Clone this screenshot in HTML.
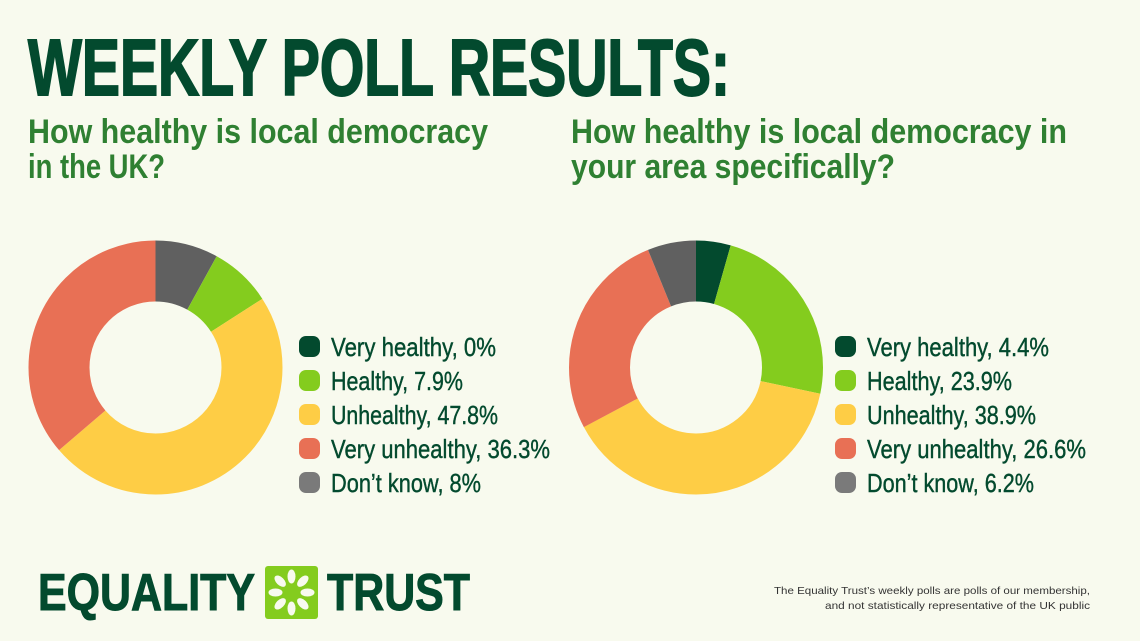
<!DOCTYPE html>
<html><head><meta charset="utf-8"><style>
html,body{margin:0;padding:0;background:#f8faee;}
svg{display:block;}
text{font-family:"Liberation Sans",sans-serif;}
</style></head><body>
<svg width="1140" height="641" viewBox="0 0 1140 641" xmlns="http://www.w3.org/2000/svg">
<rect width="1140" height="641" fill="#f8faee"/>
<text x="28" y="95" font-size="80" font-weight="bold" fill="#034a2e" textLength="702" lengthAdjust="spacingAndGlyphs" stroke="#034a2e" stroke-width="2">WEEKLY POLL RESULTS:</text>
<g fill="#2f8032" font-size="34" font-weight="bold">
<text x="28" y="143" textLength="460" lengthAdjust="spacingAndGlyphs">How healthy is local democracy</text>
<text x="28" y="178" textLength="137" lengthAdjust="spacingAndGlyphs">in the UK?</text>
<text x="571" y="143" textLength="496" lengthAdjust="spacingAndGlyphs">How healthy is local democracy in</text>
<text x="571" y="178" textLength="324" lengthAdjust="spacingAndGlyphs">your area specifically?</text>
</g>
<g transform="rotate(-90 155.5 367.5)" fill="none" stroke-width="61">
<circle cx="155.5" cy="367.5" r="96.5" stroke="#606060" stroke-dasharray="48.5 700" stroke-dashoffset="0"/>
<circle cx="155.5" cy="367.5" r="96.5" stroke="#84cc1e" stroke-dasharray="47.9 700" stroke-dashoffset="-48.5"/>
<circle cx="155.5" cy="367.5" r="96.5" stroke="#fecd45" stroke-dasharray="289.8 700" stroke-dashoffset="-96.4"/>
<circle cx="155.5" cy="367.5" r="96.5" stroke="#e87055" stroke-dasharray="220.1 700" stroke-dashoffset="-386.2"/>
</g>
<g transform="rotate(-90 696 367.5)" fill="none" stroke-width="61">
<circle cx="696" cy="367.5" r="96.5" stroke="#034a2e" stroke-dasharray="26.7 700" stroke-dashoffset="0"/>
<circle cx="696" cy="367.5" r="96.5" stroke="#84cc1e" stroke-dasharray="144.9 700" stroke-dashoffset="-26.7"/>
<circle cx="696" cy="367.5" r="96.5" stroke="#fecd45" stroke-dasharray="235.9 700" stroke-dashoffset="-171.6"/>
<circle cx="696" cy="367.5" r="96.5" stroke="#e87055" stroke-dasharray="161.3 700" stroke-dashoffset="-407.4"/>
<circle cx="696" cy="367.5" r="96.5" stroke="#606060" stroke-dasharray="37.6 700" stroke-dashoffset="-568.7"/>
</g>
<g>
<rect x="299" y="336" width="21" height="21" rx="7" fill="#034a2e"/>
<rect x="299" y="370" width="21" height="21" rx="7" fill="#84cc1e"/>
<rect x="299" y="404" width="21" height="21" rx="7" fill="#fecd45"/>
<rect x="299" y="438" width="21" height="21" rx="7" fill="#e87055"/>
<rect x="299" y="472" width="21" height="21" rx="7" fill="#7a7a7a"/>
<rect x="835" y="336" width="21" height="21" rx="7" fill="#034a2e"/>
<rect x="835" y="370" width="21" height="21" rx="7" fill="#84cc1e"/>
<rect x="835" y="404" width="21" height="21" rx="7" fill="#fecd45"/>
<rect x="835" y="438" width="21" height="21" rx="7" fill="#e87055"/>
<rect x="835" y="472" width="21" height="21" rx="7" fill="#7a7a7a"/>
</g>
<g fill="#034a2e" font-size="26" stroke="#034a2e" stroke-width="0.4">
<text x="331" y="356" textLength="165" lengthAdjust="spacingAndGlyphs">Very healthy, 0%</text>
<text x="331" y="390" textLength="132" lengthAdjust="spacingAndGlyphs">Healthy, 7.9%</text>
<text x="331" y="424" textLength="167" lengthAdjust="spacingAndGlyphs">Unhealthy, 47.8%</text>
<text x="331" y="458" textLength="219" lengthAdjust="spacingAndGlyphs">Very unhealthy, 36.3%</text>
<text x="331" y="492" textLength="150" lengthAdjust="spacingAndGlyphs">Don’t know, 8%</text>
<text x="867" y="356" textLength="182" lengthAdjust="spacingAndGlyphs">Very healthy, 4.4%</text>
<text x="867" y="390" textLength="145" lengthAdjust="spacingAndGlyphs">Healthy, 23.9%</text>
<text x="867" y="424" textLength="169" lengthAdjust="spacingAndGlyphs">Unhealthy, 38.9%</text>
<text x="867" y="458" textLength="219" lengthAdjust="spacingAndGlyphs">Very unhealthy, 26.6%</text>
<text x="867" y="492" textLength="167" lengthAdjust="spacingAndGlyphs">Don’t know, 6.2%</text>
</g>
<g fill="#034a2e" font-size="52" font-weight="bold">
<text x="38" y="610" textLength="217" lengthAdjust="spacingAndGlyphs" stroke="#034a2e" stroke-width="1">EQUALITY</text>
<text x="327" y="610" textLength="143" lengthAdjust="spacingAndGlyphs" stroke="#034a2e" stroke-width="1">TRUST</text>
</g>
<rect x="265" y="566" width="53" height="53" rx="3" fill="#84cc1e"/>
<g fill="#f8faee" transform="translate(291.5 592.5)">
<ellipse cx="0" cy="-16" rx="4" ry="7"/>
<ellipse cx="0" cy="-16" rx="4" ry="7" transform="rotate(45)"/>
<ellipse cx="0" cy="-16" rx="4" ry="7" transform="rotate(90)"/>
<ellipse cx="0" cy="-16" rx="4" ry="7" transform="rotate(135)"/>
<ellipse cx="0" cy="-16" rx="4" ry="7" transform="rotate(180)"/>
<ellipse cx="0" cy="-16" rx="4" ry="7" transform="rotate(225)"/>
<ellipse cx="0" cy="-16" rx="4" ry="7" transform="rotate(270)"/>
<ellipse cx="0" cy="-16" rx="4" ry="7" transform="rotate(315)"/>
</g>
<g fill="#333" font-size="10.5" text-anchor="end">
<text x="1090" y="594" textLength="316" lengthAdjust="spacingAndGlyphs">The Equality Trust’s weekly polls are polls of our membership,</text>
<text x="1090" y="609" textLength="265" lengthAdjust="spacingAndGlyphs">and not statistically representative of the UK public</text>
</g>
</svg>
</body></html>
